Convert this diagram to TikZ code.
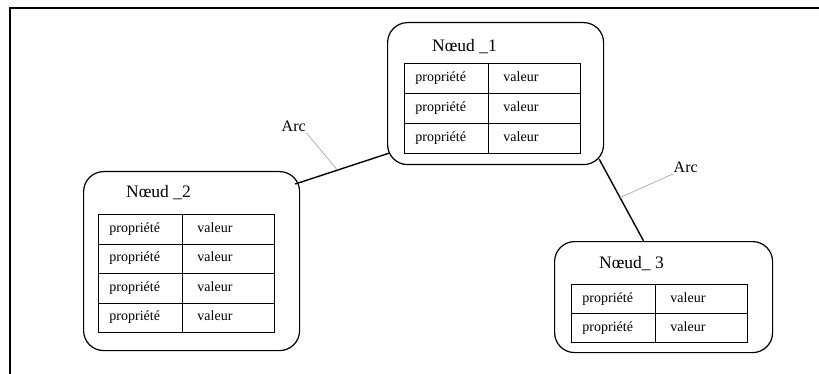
\documentclass[tikz,border=0pt]{standalone}
\usepackage{fontspec}
\setmainfont{Liberation Serif}
\usetikzlibrary{calc}
\begin{document}
\begin{tikzpicture}[x=1pt,y=-1pt,
  frame/.style={line width=1.5pt},
  box/.style={draw, line width=1.2pt, rounded corners=20pt, anchor=north west, inner sep=0pt},
  title/.style={anchor=base west, inner sep=0pt, font=\fontsize{17.5}{20}\selectfont},
  cell/.style={draw, line width=0.9pt, anchor=north west, text width=62pt, align=left,
    inner ysep=0pt, text height=9.5pt, text depth=3pt, font=\fontsize{14}{16}\selectfont},
  cellA/.style={cell, inner xsep=11pt},
  cellB/.style={cell, inner xsep=15pt},
  edge/.style={line width=1.4pt},
  leader/.style={line width=0.6pt, gray!75},
  arclabel/.style={inner sep=0.5pt, font=\fontsize{16}{18}\selectfont}]
\useasboundingbox (0,0) rectangle (819,374);

% outer frame (top and left sides)
\draw[frame] (819,8) -- (10,8) -- (10,374);

% Node 1
\node[box, minimum width=216pt, minimum height=142pt] (n1) at (387,22) {};
\node[title] (t1) at (432,52) {Nœud \_1};
\foreach \i in {0,1,2}{
  \node[cellA, minimum height=30pt] (n1p\i) at (404,{63+30*\i}) {propriété};
  \node[cellB, minimum height=30pt] (n1v\i) at (488,{63+30*\i}) {valeur};
}

% Node 2
\node[box, minimum width=216pt, minimum height=179pt] (n2) at (83,171) {};
\node[title] (t2) at (126,198) {Nœud \_2};
\foreach \i in {0,1,2,3}{
  \node[cellA, minimum height=29.5pt] (n2p\i) at (98,{214+29.5*\i}) {propriété};
  \node[cellB, minimum height=29.5pt] (n2v\i) at (182,{214+29.5*\i}) {valeur};
}

% Node 3
\node[box, minimum width=218pt, minimum height=111pt] (n3) at (554,241) {};
\node[title] (t3) at (599,268) {Nœud\_ 3};
\foreach \i in {0,1}{
  \node[cellA, minimum height=29pt] (n3p\i) at (571,{284+29*\i}) {propriété};
  \node[cellB, minimum height=29pt] (n3v\i) at (655,{284+29*\i}) {valeur};
}

% Arcs between the nodes
\coordinate (e21) at ($(n2.north east)+(-5,13)$);
\coordinate (e12) at ($(n1.south west)+(2,-12)$);
\draw[edge] (e21) -- (e12);
\path (e21) -- coordinate[pos=0.45] (m12) (e12);

\coordinate (e13) at ($(n1.south east)+(-5,-6)$);
\coordinate (e31) at ($(n3.north)+(-20,0)$);
\draw[edge] (e13) -- (e31);
\path (e13) -- coordinate[pos=0.47] (m13) (e31);

% Arc labels with their leader lines
\node[arclabel, anchor=base west] (a12) at (281,132) {Arc};
\draw[leader] (m12) -- (a12.south east);
\node[arclabel, anchor=base west] (a13) at (673,173) {Arc};
\draw[leader] (m13) -- (a13.south west);
\end{tikzpicture}
\end{document}
